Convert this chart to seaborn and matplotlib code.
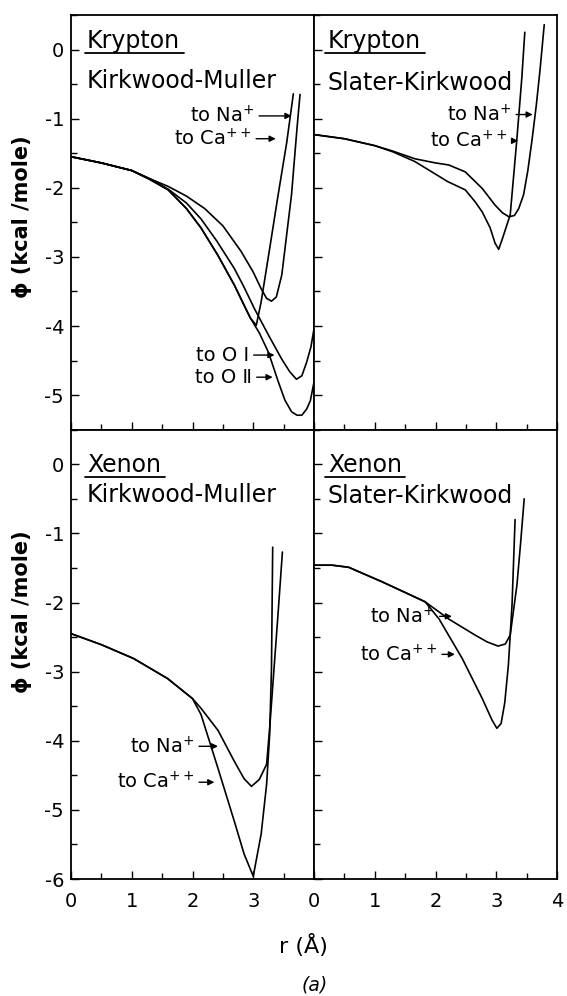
import matplotlib
matplotlib.use("Agg")
import matplotlib.pyplot as plt
from matplotlib.lines import Line2D
from matplotlib.ticker import MultipleLocator, FixedLocator, FixedFormatter
import pandas as pd
import seaborn as sns

# Krypton, Kirkwood-Muller dispersion constants: r (Å), phi (kcal/mole)
kr_km_na_r = [0.0, 0.5, 1.0, 1.3, 1.6, 1.9, 2.2, 2.5, 2.8, 3.0, 3.13, 3.22, 3.30, 3.38, 3.47, 3.55, 3.63, 3.72, 3.77]
kr_km_na_phi = [-1.55, -1.64, -1.75, -1.87, -1.98, -2.12, -2.30, -2.55, -2.92, -3.22, -3.46, -3.60, -3.64, -3.58, -3.26, -2.68, -2.10, -1.14, -0.65]

kr_km_ca_r = [0.0, 0.5, 1.0, 1.3, 1.6, 1.9, 2.14, 2.42, 2.69, 2.85, 2.95, 3.05, 3.13, 3.27, 3.41, 3.55, 3.66]
kr_km_ca_phi = [-1.55, -1.64, -1.75, -1.88, -2.03, -2.30, -2.58, -2.98, -3.41, -3.70, -3.88, -3.99, -3.65, -2.88, -2.10, -1.35, -0.64]

kr_km_o1_r = [0.0, 0.5, 1.0, 1.3, 1.6, 1.9, 2.14, 2.4, 2.69, 2.85, 3.02, 3.25, 3.47, 3.6, 3.71, 3.8, 3.88, 3.95, 4.0]
kr_km_o1_phi = [-1.55, -1.64, -1.75, -1.87, -2.02, -2.22, -2.45, -2.77, -3.17, -3.44, -3.75, -4.13, -4.48, -4.66, -4.77, -4.72, -4.52, -4.30, -4.04]

kr_km_o2_r = [0.0, 0.5, 1.0, 1.3, 1.6, 1.9, 2.14, 2.42, 2.69, 2.85, 2.95, 3.1, 3.25, 3.41, 3.52, 3.63, 3.72, 3.8, 3.88, 3.94, 4.0]
kr_km_o2_phi = [-1.55, -1.64, -1.75, -1.88, -2.03, -2.30, -2.58, -2.98, -3.41, -3.70, -3.88, -4.10, -4.38, -4.80, -5.07, -5.24, -5.29, -5.29, -5.20, -5.08, -4.81]

# Krypton, Slater-Kirkwood
kr_sk_na_r = [0.0, 0.5, 1.0, 1.3, 1.66, 2.0, 2.22, 2.49, 2.77, 2.98, 3.1, 3.21, 3.30, 3.37, 3.45, 3.52, 3.59, 3.66, 3.72, 3.79]
kr_sk_na_phi = [-1.23, -1.29, -1.39, -1.47, -1.58, -1.64, -1.67, -1.77, -2.01, -2.25, -2.36, -2.42, -2.40, -2.30, -2.10, -1.75, -1.30, -0.80, -0.30, 0.36]

kr_sk_ca_r = [0.0, 0.5, 1.0, 1.3, 1.66, 1.94, 2.2, 2.49, 2.65, 2.77, 2.9, 2.98, 3.04, 3.1, 3.23, 3.34, 3.42, 3.47]
kr_sk_ca_phi = [-1.23, -1.29, -1.39, -1.48, -1.62, -1.77, -1.91, -2.03, -2.20, -2.35, -2.58, -2.80, -2.89, -2.74, -2.39, -1.29, -0.42, 0.25]

# Xenon, Kirkwood-Muller
xe_km_na_r = [0.0, 0.5, 1.03, 1.59, 2.0, 2.14, 2.42, 2.69, 2.85, 2.97, 3.1, 3.22, 3.27, 3.35, 3.41, 3.48]
xe_km_na_phi = [-2.45, -2.61, -2.81, -3.10, -3.39, -3.53, -3.85, -4.30, -4.55, -4.66, -4.56, -4.34, -3.82, -2.86, -2.14, -1.27]

xe_km_ca_r = [0.0, 0.5, 1.03, 1.59, 2.0, 2.14, 2.42, 2.69, 2.85, 3.0, 3.13, 3.22, 3.27, 3.30, 3.32]
xe_km_ca_phi = [-2.45, -2.61, -2.81, -3.10, -3.39, -3.62, -4.40, -5.17, -5.64, -5.96, -5.35, -4.63, -3.91, -2.96, -1.20]

# Xenon, Slater-Kirkwood
xe_sk_na_r = [0.0, 0.3, 0.57, 1.12, 1.66, 1.83, 2.22, 2.65, 2.85, 3.03, 3.15, 3.23, 3.34, 3.40, 3.46]
xe_sk_na_phi = [-1.46, -1.46, -1.49, -1.70, -1.92, -1.99, -2.24, -2.47, -2.57, -2.63, -2.60, -2.47, -1.75, -1.15, -0.50]

xe_sk_ca_r = [0.0, 0.3, 0.57, 1.12, 1.66, 1.83, 2.06, 2.44, 2.77, 2.93, 3.01, 3.08, 3.14, 3.2, 3.26, 3.31]
xe_sk_ca_phi = [-1.46, -1.46, -1.49, -1.70, -1.92, -1.99, -2.24, -2.81, -3.39, -3.70, -3.82, -3.75, -3.45, -2.90, -2.03, -0.80]

gases = ["Krypton", "Krypton", "Xenon", "Xenon"]
methods = ["Kirkwood-Muller", "Slater-Kirkwood", "Kirkwood-Muller", "Slater-Kirkwood"]
x_ticklabels_left = ["0", "1", "2", "3", ""]
x_ticklabels_right = ["0", "1", "2", "3", "4"]
y_label = "ϕ (kcal /mole)"
x_label = "r (Å)"

curves = [
    ("kr_km", "Na", kr_km_na_r, kr_km_na_phi),
    ("kr_km", "Ca", kr_km_ca_r, kr_km_ca_phi),
    ("kr_km", "OI", kr_km_o1_r, kr_km_o1_phi),
    ("kr_km", "OII", kr_km_o2_r, kr_km_o2_phi),
    ("kr_sk", "Na", kr_sk_na_r, kr_sk_na_phi),
    ("kr_sk", "Ca", kr_sk_ca_r, kr_sk_ca_phi),
    ("xe_km", "Na", xe_km_na_r, xe_km_na_phi),
    ("xe_km", "Ca", xe_km_ca_r, xe_km_ca_phi),
    ("xe_sk", "Na", xe_sk_na_r, xe_sk_na_phi),
    ("xe_sk", "Ca", xe_sk_ca_r, xe_sk_ca_phi),
]
rows = []
for panel, ion, rs, ps in curves:
    for i, (r, p) in enumerate(zip(rs, ps)):
        rows.append({"panel": panel, "curve": ion, "step": i, "r": r, "phi": p})
df = pd.DataFrame(rows)

sns.set_theme(style="ticks")
plt.rcParams["font.family"] = ["DejaVu Sans"]
plt.rcParams["axes.unicode_minus"] = False
plt.rcParams["mathtext.fontset"] = "dejavusans"

fig, axes = plt.subplots(2, 2, figsize=(5.67, 9.96), dpi=100,
                         gridspec_kw={"height_ratios": [6, 6.5]})
fig.subplots_adjust(left=71 / 567, right=557 / 567, top=1 - 15 / 996,
                    bottom=1 - 879 / 996, hspace=0, wspace=0)

keys = [["kr_km", "kr_sk"], ["xe_km", "xe_sk"]]
for i in range(2):
    for j in range(2):
        ax = axes[i, j]
        sub = df[df.panel == keys[i][j]]
        sns.lineplot(data=sub, x="r", y="phi", units="curve", estimator=None,
                     sort=False, color="black", linewidth=1.2, ax=ax, legend=False)
        ax.set_xlabel("")
        ax.set_ylabel("")
        ax.set_xlim(0, 4)
        ax.set_ylim((-5.5, 0.5) if i == 0 else (-6, 0.5))
        ax.yaxis.set_major_locator(MultipleLocator(1))
        ax.yaxis.set_minor_locator(MultipleLocator(0.5))
        ax.xaxis.set_major_locator(FixedLocator([0, 1, 2, 3, 4]))
        ax.xaxis.set_minor_locator(MultipleLocator(0.5))
        ax.tick_params(which="both", direction="in", top=False, right=False,
                       left=True, bottom=True, color="black", width=1.0,
                       labelsize=14, labelcolor="black")
        ax.tick_params(which="major", length=6)
        ax.tick_params(which="minor", length=4.5)
        ax.tick_params(axis="y", pad=5)
        ax.tick_params(axis="x", pad=9)
        for s in ax.spines.values():
            s.set_color("black")
            s.set_linewidth(1.3)
        if j == 1:
            ax.tick_params(labelleft=False)
        if i == 0:
            ax.tick_params(labelbottom=False)
        else:
            labels = x_ticklabels_left if j == 0 else x_ticklabels_right
            ax.xaxis.set_major_formatter(FixedFormatter(labels))

# y axis titles
for i, ycen in zip(range(2), [0.513, 0.596]):
    ax = axes[i, 0]
    ax.set_ylabel(y_label, fontsize=15, fontweight="bold", color="black")
    ax.yaxis.set_label_coords(-0.16, ycen)

fig.text(303 / 567, 1 - 953 / 996, x_label, ha="center", va="baseline",
         fontsize=16, color="black")
fig.text(315 / 567, 1 - 985 / 996, "(a)", ha="center", va="center",
         fontsize=13.5, style="italic", color="black")

# panel headings
name_texts = []
head_pos = {
    (0, 0): (0.066, 0.920, 0.823),
    (0, 1): (0.057, 0.920, 0.818),
    (1, 0): (0.066, 0.907, 0.840),
    (1, 1): (0.057, 0.907, 0.836),
}
for (i, j), (x0, yn, ym) in head_pos.items():
    ax = axes[i, j]
    t = ax.text(x0, yn, gases[2 * i + j], transform=ax.transAxes, fontsize=17,
                ha="left", va="baseline", color="black")
    ax.text(x0, ym, methods[2 * i + j], transform=ax.transAxes, fontsize=17,
            ha="left", va="baseline", color="black")
    name_texts.append((ax, t))

# arrow labels naming the ion each curve refers to
arrow_kw = dict(arrowstyle="-|>", color="black", lw=1.0, mutation_scale=9,
                shrinkA=1, shrinkB=0)
labels = [
    (0, 0, "to Na$^{+}$", (3.02, -0.96), (3.63, -0.96)),
    (0, 0, "to Ca$^{++}$", (2.97, -1.29), (3.37, -1.29)),
    (0, 0, "to O Ⅰ", (2.93, -4.42), (3.35, -4.42)),
    (0, 0, "to O Ⅱ", (2.98, -4.74), (3.32, -4.74)),
    (0, 1, "to Na$^{+}$", (3.25, -0.94), (3.60, -0.94)),
    (0, 1, "to Ca$^{++}$", (3.18, -1.32), (3.36, -1.32)),
    (1, 0, "to Na$^{+}$", (2.03, -4.08), (2.42, -4.08)),
    (1, 0, "to Ca$^{++}$", (2.03, -4.60), (2.36, -4.60)),
    (1, 1, "to Na$^{+}$", (1.99, -2.20), (2.27, -2.20)),
    (1, 1, "to Ca$^{++}$", (2.03, -2.75), (2.32, -2.75)),
]
for i, j, txt, xyt, xy in labels:
    axes[i, j].annotate(txt, xy=xy, xytext=xyt, ha="right", va="center",
                        fontsize=14, color="black", arrowprops=arrow_kw)

# underline the gas names
fig.canvas.draw()
renderer = fig.canvas.get_renderer()
for ax, t in name_texts:
    bb = t.get_window_extent(renderer)
    inv = ax.transAxes.inverted()
    (x0, y0), (x1, y1) = inv.transform([[bb.x0, bb.y0], [bb.x1, bb.y1]])
    ax.add_line(Line2D([x0 - 0.01, x1 + 0.015], [y0, y0], transform=ax.transAxes,
                       color="black", lw=1.3, clip_on=False))

fig.savefig("out.png", dpi=100, facecolor="white")
